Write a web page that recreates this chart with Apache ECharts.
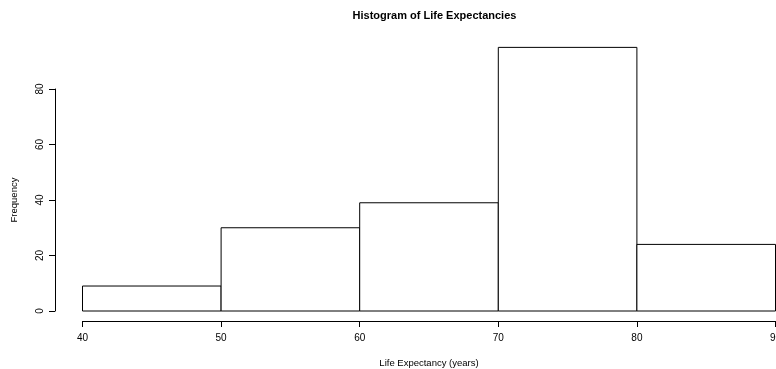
<!DOCTYPE html>
<html>
<head>
<meta charset="utf-8">
<script src="https://cdn.jsdelivr.net/npm/echarts@6/dist/echarts.min.js"></script>
<style>
  html, body { margin: 0; padding: 0; background: #fff; }
  #chart { width: 776px; height: 369px; }
</style>
</head>
<body>
<div id="chart"></div>
<script>
// Histogram bins (years) and counts
const binStarts = [40, 50, 60, 70, 80];
const binEnds = [50, 60, 70, 80, 90];
const counts = [9, 30, 39, 95, 24];
const xTicks = [40, 50, 60, 70, 80, 90];
const yTicks = [0, 20, 40, 60, 80];

const FONT = '"Liberation Sans", Arial, Helvetica, sans-serif';

const binData = binStarts.map((s, i) => [s, binEnds[i], counts[i]]);

const chart = echarts.init(document.getElementById('chart'), null, { renderer: 'canvas' });

chart.setOption({
  animation: false,
  backgroundColor: '#ffffff',
  title: {
    text: 'Histogram of Life Expectancies',
    left: 429.5, top: 5,
    textAlign: 'center',
    textStyle: { fontFamily: FONT, fontSize: 11, fontWeight: 'bold', color: '#000' }
  },
  grid: {
    left: 82.5, right: 0.5, top: 89, bottom: 58,
    containLabel: false,
    outerBoundsMode: 'none'
  },
  xAxis: {
    type: 'value',
    min: xTicks[0], max: xTicks[xTicks.length - 1], interval: 10,
    offset: 10,
    name: 'Life Expectancy (years)',
    nameLocation: 'middle', nameGap: 37,
    nameTextStyle: { fontFamily: FONT, fontSize: 9.5, color: '#000' },
    axisLine: { show: true, onZero: false, lineStyle: { color: '#000', width: 1 } },
    axisTick: { show: true, inside: false, length: 6, lineStyle: { color: '#000' } },
    axisLabel: { fontFamily: FONT, fontSize: 10, color: '#000', margin: 12, showMaxLabel: true, showMinLabel: true },
    splitLine: { show: false }
  },
  yAxis: {
    type: 'value',
    min: yTicks[0], max: yTicks[yTicks.length - 1], interval: 20,
    offset: 27.5,
    name: 'Frequency',
    nameLocation: 'middle', nameGap: 36, nameRotate: 90,
    nameTextStyle: { fontFamily: FONT, fontSize: 9.5, color: '#000' },
    axisLine: { show: true, lineStyle: { color: '#000', width: 1 } },
    axisTick: { show: true, inside: false, length: 6, lineStyle: { color: '#000' } },
    axisLabel: { fontFamily: FONT, fontSize: 10, color: '#000', rotate: 90, margin: 10 },
    splitLine: { show: false }
  },
  series: [{
    type: 'custom',
    clip: false,
    data: binData,
    renderItem: function (params, api) {
      const p0 = api.coord([api.value(0), 0]);
      const p1 = api.coord([api.value(1), api.value(2)]);
      return {
        type: 'rect',
        shape: { x: p0[0], y: p1[1], width: p1[0] - p0[0], height: p0[1] - p1[1] },
        style: { fill: '#ffffff', stroke: '#000000', lineWidth: 1 }
      };
    }
  }]
});
</script>
</body>
</html>
